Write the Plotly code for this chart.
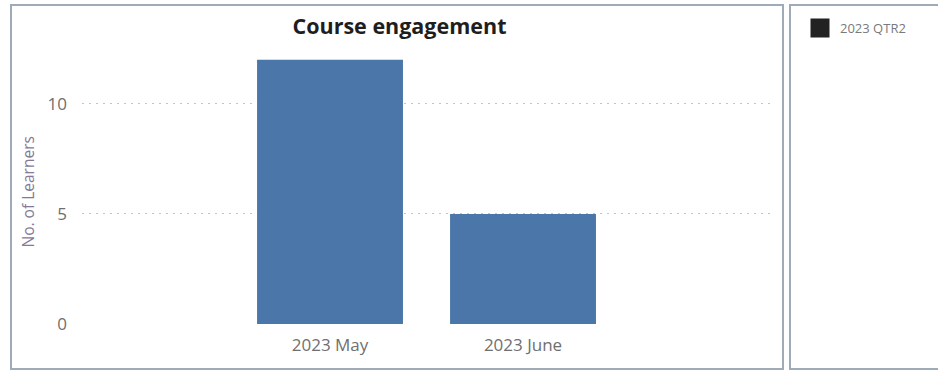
import plotly.graph_objects as go

categories = ["2023 May", "2023 June"]
learners = [12, 5]
legend_name = "2023 QTR2"
y_ticks = [0, 5, 10]
y_title = "No. of Learners"

W = 938
REF_H = 371          # reference picture height
H = 381              # rendered figure height (page is fitted to 371 px)

def px_x(v):
    return v / W

def px_y(v):
    return 1 - v / REF_H

fig = go.Figure()
fig.add_trace(go.Bar(
    x=[0, 1], y=learners, width=0.756,
    marker=dict(color="#4a76a9", line=dict(width=0)),
    showlegend=False, hoverinfo="y",
))
fig.add_trace(go.Scatter(
    x=[None], y=[None], mode="markers", name=legend_name,
    marker=dict(symbol="square", color="#222222", size=18,
                line=dict(color="#222222", width=3)),
))

border = "#a0abba"
fig.add_shape(type="rect", xref="paper", yref="paper",
              x0=px_x(11), x1=px_x(783), y0=px_y(370), y1=px_y(5),
              line=dict(color=border, width=2), layer="below")
fig.add_shape(type="rect", xref="paper", yref="paper",
              x0=px_x(790), x1=px_x(945), y0=px_y(370), y1=px_y(5),
              line=dict(color=border, width=2), layer="below")

fig.add_annotation(text=y_title, xref="paper", yref="paper",
                   x=px_x(28), y=px_y(193), xanchor="center", yanchor="middle",
                   textangle=-90, showarrow=False,
                   font=dict(size=15.5, color="#857a96"))

fig.update_layout(
    width=W, height=H,
    margin=dict(l=0, r=0, t=0, b=0),
    paper_bgcolor="white", plot_bgcolor="white",
    font=dict(family="Open Sans, DejaVu Sans, sans-serif", color="#707070"),
    title=dict(text="<b>Course engagement</b>", x=px_x(399.5), xanchor="center",
               y=px_y(25.5), yanchor="middle",
               font=dict(size=21.5, color="#1e1e1e")),
    xaxis=dict(
        domain=[px_x(82), px_x(772)],
        range=[-1.285, 2.29],
        tickmode="array", tickvals=[0, 1], ticktext=categories,
        showgrid=False, zeroline=False, showline=False,
        tickfont=dict(size=17, color="#6f6f6f"), ticks="",
        ticklabelstandoff=9,
    ),
    yaxis=dict(
        domain=[px_y(325), px_y(40)],
        range=[0, 12.9],
        tickmode="array", tickvals=y_ticks,
        showgrid=True, gridcolor="#c4c4c4", griddash="2px,5px", gridwidth=1,
        zeroline=False, showline=False,
        tickfont=dict(size=17, color="#6f6f6f"), ticks="", ticklabelstandoff=14,
    ),
    legend=dict(x=px_x(800), y=px_y(13), xanchor="left", yanchor="top",
                font=dict(size=13, color="#777a80"), itemwidth=30,
                bgcolor="rgba(0,0,0,0)"),
    bargap=0.2,
)

fig.write_html("out.html")
